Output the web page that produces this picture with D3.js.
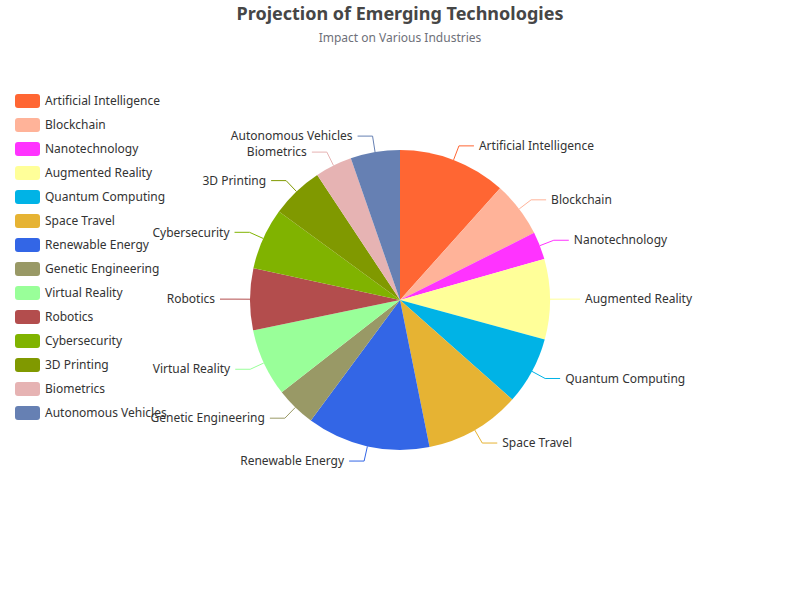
<!DOCTYPE html>
<html>
<head>
<meta charset="utf-8">
<script src="https://cdn.jsdelivr.net/npm/d3@7/dist/d3.min.js"></script>
<style>
  html, body { margin: 0; padding: 0; background: #fff; }
  svg { display: block; font-family: "Noto Sans", "Open Sans", sans-serif; }
</style>
</head>
<body>
<svg id="chart" width="800" height="600"></svg>
<script>
const categories = ["Artificial Intelligence", "Blockchain", "Nanotechnology", "Augmented Reality",
  "Quantum Computing", "Space Travel", "Renewable Energy", "Genetic Engineering", "Virtual Reality",
  "Robotics", "Cybersecurity", "3D Printing", "Biometrics", "Autonomous Vehicles"];
const values = [35, 18, 9, 26, 22, 31, 40, 13, 22, 20, 20, 17, 12, 16];
const colors = ["#FF6633", "#FFB399", "#FF33FF", "#FFFF99", "#00B3E6", "#E6B333", "#3366E6",
  "#999966", "#99FF99", "#B34D4D", "#80B300", "#809900", "#E6B3B3", "#6680B3"];
const titleText = "Projection of Emerging Technologies";
const subtitleText = "Impact on Various Industries";

const svg = d3.select("#chart");
const W = 800, H = 600;
const cx = 400, cy = 300, R = 150;
const len1 = 15, len2 = 15, gap = 5, minSpace = 16;

// Title
svg.append("text").attr("x", W / 2).attr("y", 20).attr("text-anchor", "middle")
  .attr("font-size", 18).attr("font-weight", "bold").attr("fill", "#464646").text(titleText);
svg.append("text").attr("x", W / 2).attr("y", 42).attr("text-anchor", "middle")
  .attr("font-size", 12).attr("fill", "#6E7079").text(subtitleText);

const data = categories.map((c, i) => ({ name: c, value: values[i], color: colors[i] }));
const pie = d3.pie().value(d => d.value).sort(null);
const arcs = pie(data);
const arc = d3.arc().innerRadius(0).outerRadius(R);

const g = svg.append("g").attr("transform", `translate(${cx},${cy})`);
g.selectAll("path.slice").data(arcs).join("path").attr("class", "slice")
  .attr("d", arc).attr("fill", d => d.data.color);

// Label layout
const labels = arcs.map(a => {
  const mid = (a.startAngle + a.endAngle) / 2;
  const sx = Math.sin(mid), sy = -Math.cos(mid);
  return { a, sx, sy, right: sx >= 0, y: (R + len1) * sy };
});
// simple overlap avoidance per side
[true, false].forEach(side => {
  const s = labels.filter(l => l.right === side).sort((p, q) => p.y - q.y);
  const upper = s.filter(l => l.y < 0).reverse();
  for (let i = 1; i < upper.length; i++) {
    if (upper[i - 1].y - upper[i].y < minSpace) upper[i].y = upper[i - 1].y - minSpace;
  }
  const lower = s.filter(l => l.y >= 0);
  for (let i = 1; i < lower.length; i++) {
    if (lower[i].y - lower[i - 1].y < minSpace) lower[i].y = lower[i - 1].y + minSpace;
  }
});

labels.forEach(l => {
  const r1 = R + len1;
  const p0 = [R * l.sx, R * l.sy];
  const p1 = [r1 * l.sx, l.y];
  const p2 = [p1[0] + (l.right ? len2 : -len2), p1[1]];
  g.append("polyline").attr("points", [p0, p1, p2].map(p => p.join(",")).join(" "))
    .attr("fill", "none").attr("stroke", l.a.data.color).attr("stroke-width", 1);
  g.append("text").attr("x", p2[0] + (l.right ? gap : -gap)).attr("y", p2[1])
    .attr("dy", "0.35em").attr("text-anchor", l.right ? "start" : "end")
    .attr("font-size", 12).attr("fill", "#333").text(l.a.data.name);
});

// Legend
const legend = svg.append("g").attr("transform", "translate(15,94)");
const items = legend.selectAll("g").data(data).join("g")
  .attr("transform", (d, i) => `translate(0,${i * 24})`);
items.append("rect").attr("width", 25).attr("height", 14).attr("rx", 3).attr("ry", 3)
  .attr("fill", d => d.color);
items.append("text").attr("x", 30).attr("y", 7).attr("dy", "0.35em")
  .attr("font-size", 12).attr("fill", "#333").text(d => d.name);
</script>
</body>
</html>
